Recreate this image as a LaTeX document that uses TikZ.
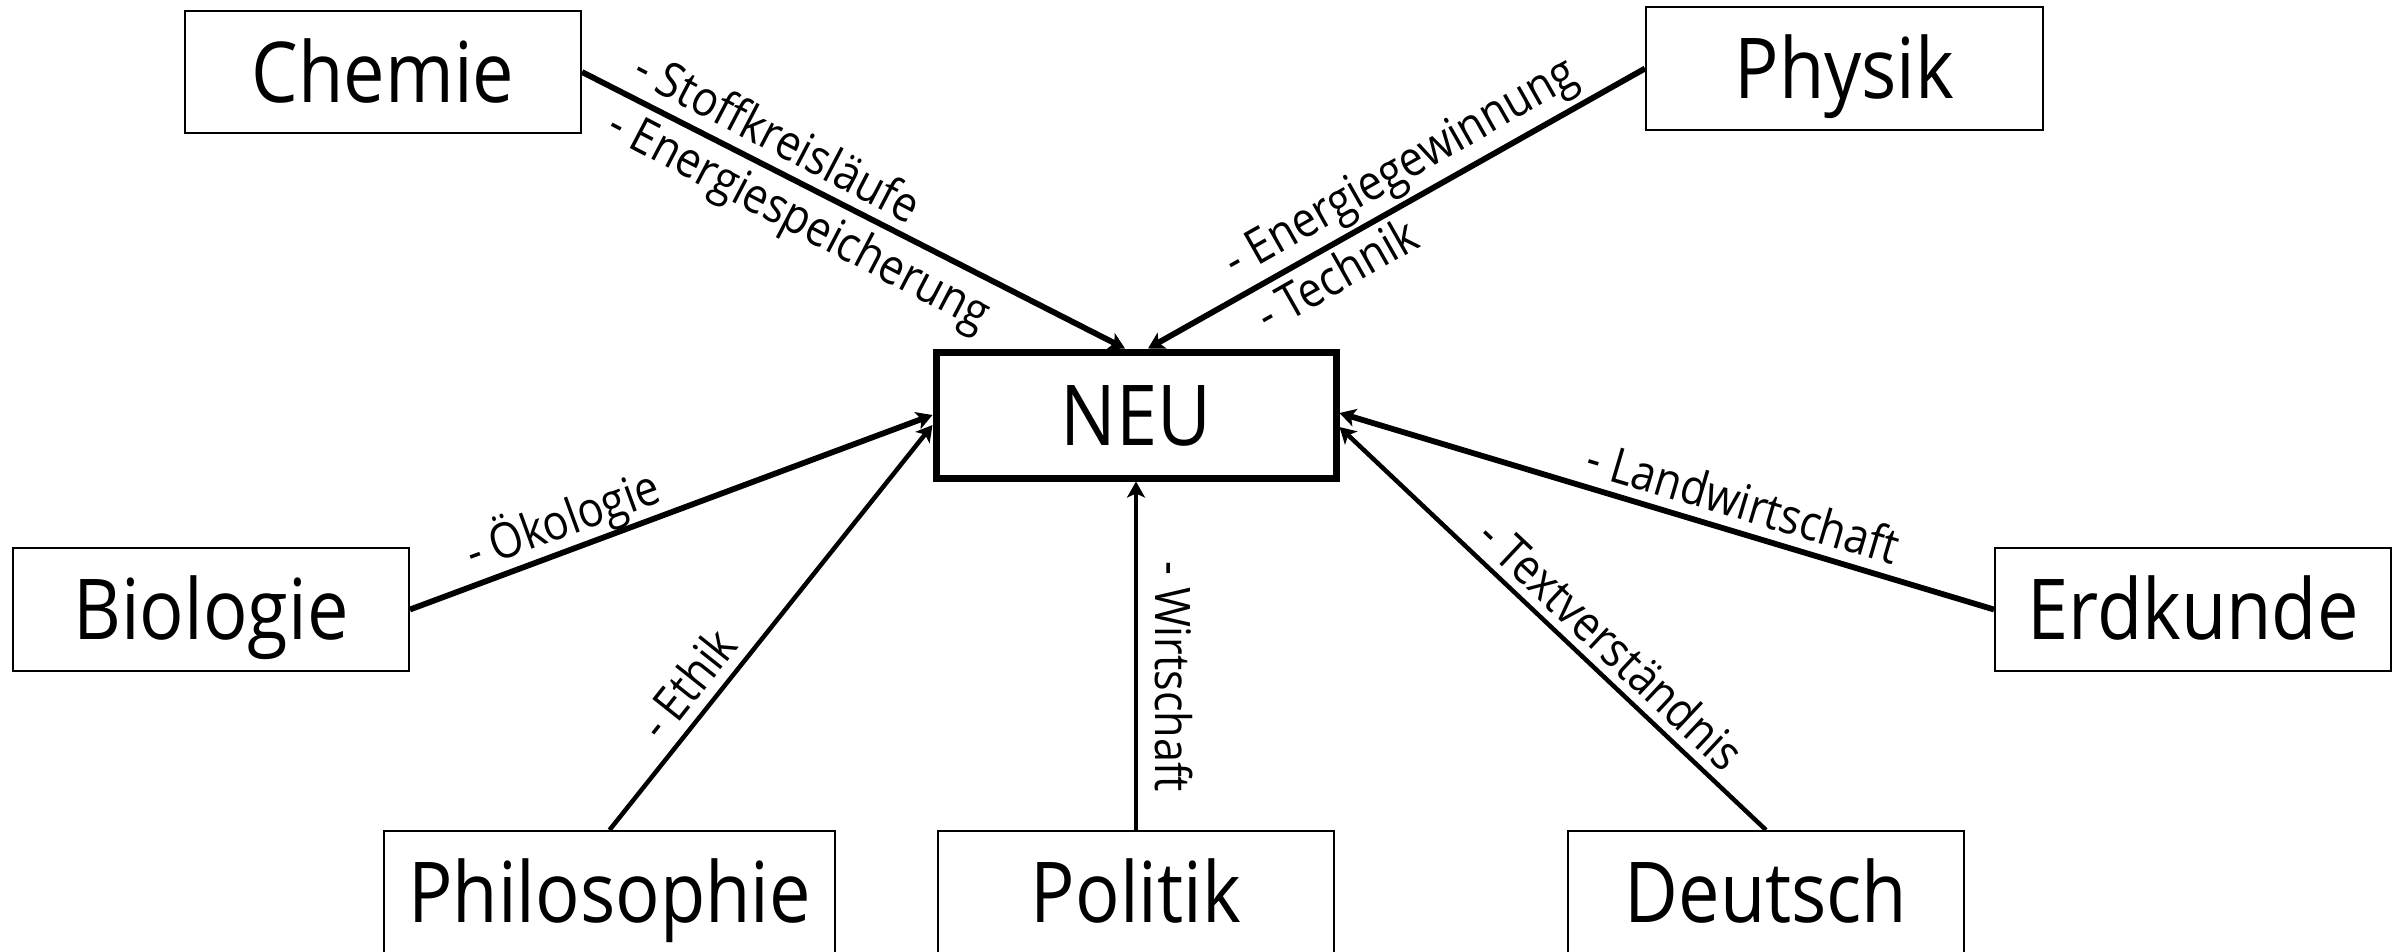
\documentclass[tikz,border=0pt]{standalone}
\usepackage{fontspec}
\setmainfont{Open Sans}[FakeStretch=0.88]
\usetikzlibrary{arrows.meta}
\tikzset{
  box/.style={draw, line width=2pt, minimum width=396pt, minimum height=122pt, inner sep=0pt,
    font=\fontsize{84}{90}\selectfont, text height=60pt, text depth=0pt},
  centerbox/.style={box, line width=7pt, minimum width=400pt, minimum height=126pt},
  conn/.style={line width=5.8pt, -{Stealth[length=16pt,width=18pt,inset=4pt]}},
  thinconn/.style={conn, line width=4.5pt},
  lbl/.style={inner sep=0pt, anchor=base, font=\fontsize{49}{52}\selectfont}
}
\begin{document}
\begin{tikzpicture}[x=1pt,y=-1pt]
\clip (0,0) rectangle (2403,951);
\fill[white] (0,0) rectangle (2403,951);

\node[centerbox] (neu) at (1136,415) {NEU};
\node[box] (chemie) at (383,72) {Chemie};
\node[box, minimum width=397pt, minimum height=123pt] (physik) at (1844.5,68.5) {Physik};
\node[box, minimum height=123pt] (biologie) at (211,609.5) {Biologie};
\node[box, minimum height=123pt] (erdkunde) at (2193,609.5) {Erdkunde};
\node[box, minimum width=451pt, minimum height=123pt] (philo) at (609.5,892.5) {Philosophie};
\node[box, minimum height=123pt] (politik) at (1136,892.5) {Politik};
\node[box, minimum height=123pt] (deutsch) at (1766,892.5) {Deutsch};

\draw[conn] (chemie.east) -- ([xshift=-11pt]neu.north);
\draw[conn] (physik.west) -- ([xshift=12pt]neu.north);
\draw[conn] (biologie.east) -- (neu.west);
\draw[thinconn] (philo.north) -- ([yshift=-10pt]neu.west);
\draw[thinconn] (politik.north) -- (neu.south);
\draw[thinconn] (deutsch.north) -- ([yshift=-12pt]neu.east);
\draw[conn] (erdkunde.west) -- ([yshift=2pt]neu.east);

\node[lbl, rotate=-27.6] (l1) at (770,152) {- Stoffkreisläufe};
\node[lbl, rotate=-27.6] (l2) at (792,233) {- Energiespeicherung};
\node[lbl, rotate=29.6] (l3) at (1408,181) {- Energiegewinnung};
\node[lbl, rotate=29.6] (l4) at (1345,290) {- Technik};
\node[lbl, rotate=20] (l5) at (568,536) {- Ökologie};
\node[lbl, rotate=51.5] (l6) at (701,695) {- Ethik};
\node[lbl, rotate=-90] (l7) at (1155,677) {- Wirtschaft};
\node[lbl, rotate=-43.2] (l8) at (1599,657) {- Textverständnis};
\node[lbl, rotate=-16.5] (l9) at (1738,519) {- Landwirtschaft};
\end{tikzpicture}
\end{document}
